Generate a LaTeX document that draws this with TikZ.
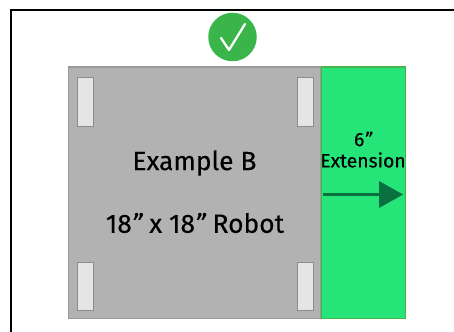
\documentclass[tikz,border=0pt]{standalone}
\usepackage{fontspec}
\setmainfont{Fira Sans}[FakeBold=0.25]
\usetikzlibrary{positioning}
\definecolor{robotgray}{HTML}{B2B2B2}
\definecolor{extgreen}{HTML}{25E478}
\definecolor{arrowgreen}{HTML}{0B7040}
\definecolor{okgreen}{HTML}{39B54A}
\newcommand{\inchmark}{{\itshape\char`\"}}
\tikzset{
  wheelbox/.style={draw=gray!90, fill=gray!20, line width=0.6pt, minimum width=3.2mm, minimum height=9.7mm, inner sep=0pt},
  biglabel/.style={font=\fontsize{15}{18}\selectfont, inner sep=0pt},
  smalllabel/.style={font=\fontsize{11}{13}\selectfont, inner sep=0pt}
}
\begin{document}
\begin{tikzpicture}[x=0.2mm, y=-0.2mm]
  \useasboundingbox (0,0) rectangle (454,331);

  % Frame
  \draw[line width=1.7pt] (11,340) -- (11,10) -- (460,10);

  % Robot and extension
  \node[draw=gray!80, fill=robotgray, line width=0.6pt, minimum width=50.4mm, minimum height=50.3mm, inner sep=0pt, anchor=north west] (robot) at (67.5,66.5) {};
  \node[draw=gray!60!green, fill=extgreen, line width=0.6pt, minimum width=16.8mm, minimum height=50.3mm, inner sep=0pt, right=0pt of robot] (extension) {};

  % Wheels
  \foreach \name/\x/\y in {wa/85.5/102, wb/305.5/102, wc/85.5/286.5, wd/305.5/286.5}{
    \node[wheelbox] (\name) at (\x,\y) {};
  }

  % Labels
  \node[biglabel] (title) at (194.5,163) {Example B};
  \node[biglabel] (size) at (195,223) {18\inchmark{} x 18\inchmark{} Robot};
  \node[smalllabel] (six) at (363,139) {6\inchmark};
  \node[smalllabel] (ext) at (363,160) {Extension};

  % Arrow
  \coordinate (arrowstart) at (323,194.5);
  \coordinate (arrowneck) at (380,194.5);
  \coordinate (arrowend) at (403,194.5);
  \draw[arrowgreen, line width=1.4pt] (arrowstart) -- (arrowneck);
  \fill[arrowgreen] (379,181) -- (arrowend) -- (379,208) -- cycle;

  % Check mark
  \node[circle, fill=okgreen, minimum size=9.7mm, inner sep=0pt] (okmark) at (232.5,37) {};
  \draw[white, line width=1.3pt, line cap=round, line join=round] (221,38) -- (229,50) -- (245,24);
\end{tikzpicture}
\end{document}
